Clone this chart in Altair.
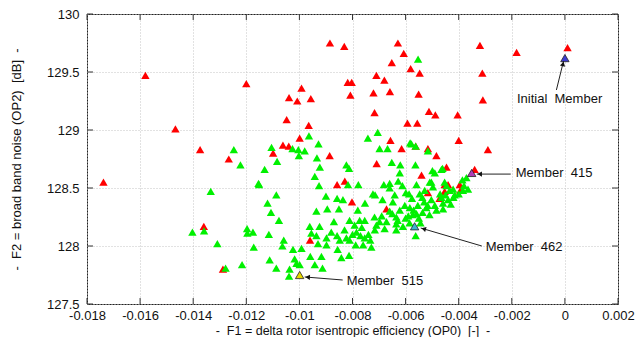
import altair as alt
import pandas as pd

# ---------------- data ----------------
red_x = [-0.0158, -0.0120, -0.01467, -0.01374, -0.01266, -0.00885, -0.00831, -0.00629, -0.00607, -0.00652,
         -0.00581, -0.00547, -0.0071, -0.0068, -0.00818, -0.00803, -0.00992, -0.00721, -0.00659, -0.00551,
         -0.01039, -0.01008, -0.00957, -0.00808, -0.00717, -0.00512, -0.00488, -0.01048, -0.00965, -0.00593,
         -0.00556, -0.00999, -0.00657, -0.01062, -0.0104, -0.01099, -0.00886, -0.00615, -0.00562, -0.00516,
         -0.00484, -0.0032, -0.00182, 0.0001, -0.00311, -0.00309, -0.00404, -0.0040, -0.0029, -0.01738,
         -0.0136, -0.01288, -0.00709, -0.0054, -0.00858, -0.00829, -0.00802, -0.00672, -0.0096, -0.00516,
         -0.00472, -0.00453, -0.00446, -0.0044, -0.00396, -0.00394, -0.00453, -0.0034]
red_y = [129.47, 129.40, 129.01, 128.83, 128.75, 129.75, 129.72, 129.75, 129.66, 129.58,
         129.53, 129.49, 129.47, 129.43, 129.41, 129.41, 129.36, 129.32, 129.33, 129.31,
         129.28, 129.25, 129.27, 129.30, 129.15, 129.16, 129.13, 129.09, 129.04, 129.06,
         129.06, 128.93, 128.91, 128.87, 128.86, 128.80, 128.78, 128.84, 128.86, 128.84,
         128.78, 129.73, 129.67, 129.71, 129.49, 129.26, 129.13, 128.91, 128.83, 128.55,
         128.17, 127.80, 128.71, 128.61, 128.53, 128.56, 128.38, 128.32, 128.05, 128.46,
         128.41, 128.53, 128.68, 128.53, 128.53, 128.48, 128.47, 128.66]

green_x = [-0.01247, -0.01222, -0.01154, -0.01334, -0.01359, -0.01403, -0.01197, -0.01196, -0.01309, -0.01172,
           -0.01216, -0.01278, -0.00964, -0.00742, -0.00705, -0.00928, -0.01105, -0.01026, -0.01004, -0.0098,
           -0.01002, -0.00934, -0.00698, -0.00668, -0.00583, -0.00562, -0.00516, -0.01084, -0.01131, -0.00923,
           -0.00823, -0.00813, -0.00652, -0.0062, -0.00563, -0.00499, -0.00461, -0.00942, -0.01152, -0.00926,
           -0.00778, -0.00682, -0.0066, -0.00612, -0.00559, -0.00509, -0.00497, -0.00446, -0.01087, -0.0112,
           -0.0090, -0.00858, -0.00836, -0.00715, -0.00753, -0.00687, -0.00648, -0.00587, -0.00537, -0.00503,
           -0.00459, -0.01107, -0.00936, -0.00895, -0.00851, -0.0078, -0.00717, -0.0066, -0.00635, -0.0060,
           -0.00559, -0.00522, -0.00484, -0.01077, -0.0087, -0.00811, -0.00773, -0.00754, -0.00672, -0.00635,
           -0.00585, -0.00544, -0.01175, -0.01115, -0.00961, -0.00924, -0.0088, -0.0083, -0.00785, -0.00716,
           -0.00679, -0.00635, -0.00955, -0.00936, -0.00898, -0.00858, -0.00823, -0.00811, -0.00754, -0.00733,
           -0.01059, -0.01064, -0.01024, -0.00992, -0.0093, -0.00898, -0.00856, -0.00788, -0.0076, -0.00729,
           -0.01112, -0.01018, -0.00959, -0.00917, -0.00842, -0.00813, -0.01087, -0.01037, -0.01011, -0.00999,
           -0.00942, -0.00913, -0.01039, -0.00562, -0.00453, -0.00421, -0.00365, -0.00384, -0.00415, -0.00465,
           -0.0044, -0.00459, -0.00578, -0.0049, -0.00465, -0.00503, -0.00547, -0.00622, -0.00628, -0.0066,
           -0.00817, -0.00723, -0.00599, -0.00553, -0.00622, -0.00603, -0.00584, -0.00573, -0.00554, -0.00536,
           -0.00517, -0.00434, -0.00386, -0.00371, -0.00528, -0.00576, -0.00641, -0.00792, -0.00848, -0.00765,
           -0.00698, -0.0080, -0.0077, -0.0074, -0.0071, -0.0069, -0.0065, -0.0063, -0.0061, -0.0059,
           -0.0057, -0.0055, -0.0053, -0.0051, -0.0049, -0.0047, -0.0045, -0.0043, -0.0042, -0.0040,
           -0.0038]
green_y = [128.83, 128.70, 128.54, 128.47, 128.13, 128.12, 128.15, 128.11, 128.02, 127.99,
           127.84, 127.81, 128.95, 128.93, 128.98, 128.88, 128.85, 128.84, 128.83, 128.82,
           128.78, 128.76, 128.84, 128.84, 128.89, 128.86, 128.82, 128.73, 128.66, 128.68,
           128.70, 128.67, 128.72, 128.70, 128.70, 128.65, 128.67, 128.60, 128.53, 128.52,
           128.53, 128.53, 128.54, 128.52, 128.53, 128.55, 128.51, 128.52, 128.44, 128.37,
           128.43, 128.41, 128.40, 128.44, 128.37, 128.40, 128.38, 128.45, 128.42, 128.40,
           128.37, 128.29, 128.30, 128.32, 128.32, 128.31, 128.25, 128.30, 128.25, 128.24,
           128.28, 128.33, 128.31, 128.22, 128.21, 128.22, 128.22, 128.22, 128.21, 128.19,
           128.20, 128.20, 128.12, 128.10, 128.17, 128.17, 128.12, 128.14, 128.12, 128.14,
           128.15, 128.14, 128.11, 128.09, 128.07, 128.09, 128.07, 128.05, 128.07, 128.05,
           128.05, 128.00, 127.97, 127.98, 128.02, 128.01, 127.97, 128.01, 128.01, 127.99,
           127.88, 127.89, 127.91, 127.91, 127.90, 127.92, 127.81, 127.80, 127.85, 127.84,
           127.84, 127.81, 127.74, 128.09, 128.55, 128.49, 128.49, 128.48, 128.44, 128.42,
           128.40, 128.32, 128.88, 128.63, 128.66, 128.55, 128.45, 128.63, 128.56, 128.50,
           128.53, 128.45, 128.46, 129.61, 128.31, 128.35, 128.33, 128.27, 128.35, 128.29,
           128.35, 128.48, 128.57, 128.59, 128.48, 128.41, 128.44, 128.18, 128.05, 128.16,
           128.21, 128.10, 128.09, 128.10, 128.18, 128.26, 128.28, 128.22, 128.17, 128.26,
           128.31, 128.24, 128.38, 128.27, 128.35, 128.45, 128.44, 128.36, 128.42, 128.45,
           128.52]

member_names = ["Initial\u00a0 Member", "Member\u00a0 415", "Member\u00a0 462", "Member\u00a0 515"]
member_x = [0.0, -0.00351, -0.00566, -0.00999]
member_y = [129.62, 128.63, 128.17, 127.75]
member_colors = ["#3c3cd0", "#b03cb8", "#3cb4d0", "#e8d800"]

# label anchor, arrow start, arrow tip, arrowhead centre and direction
label_x = [-0.0002, -0.00185, -0.00298, -0.00822]
label_y = [129.27, 128.63, 127.99, 127.70]
label_align = ["center", "left", "left", "left"]
arrow_x = [-0.00032, -0.00204, -0.00313, -0.00837]
arrow_y = [129.345, 128.62, 128.0, 127.707]
tip_x = [-0.00005, -0.00332, -0.00543, -0.0098]
tip_y = [129.595, 128.62, 128.155, 127.733]
head_x = [-0.00007, -0.00321, -0.00532, -0.00969]
head_y = [129.57, 128.62, 128.148, 127.731]
head_angle = [14, 270, 286, 274]

x_ticks = [-0.018, -0.016, -0.014, -0.012, -0.010, -0.008, -0.006, -0.004, -0.002, 0.0, 0.002]
y_ticks = [127.5, 128.0, 128.5, 129.0, 129.5, 130.0]

x_title = "-\u00a0 F1 = delta rotor isentropic efficiency (OP0)\u00a0 [-]\u00a0 -"
y_title = "-\u00a0 F2 = broad band noise (OP2)\u00a0 [dB]\u00a0 -"

# ---------------- chart ----------------
W, H = 531, 290
FONT = "Liberation Sans"

xs = alt.Scale(domain=[-0.018, 0.002], nice=False, zero=False)
ys = alt.Scale(domain=[127.5, 130.0], nice=False, zero=False)
xaxis = alt.Axis(values=x_ticks, title=x_title, grid=True, ticks=False, domain=False,
                 labelExpr="datum.value < 0 ? '-' + format(-datum.value, '~g') : format(datum.value, '~g')",
                 labelPadding=5, titlePadding=2, titleFontSize=12.5, labelFlush=False)
yaxis = alt.Axis(values=y_ticks, title=y_title, grid=True, ticks=False, domain=False,
                 labelExpr="format(datum.value, '~g')", labelPadding=8, titlePadding=23)

X = alt.X("x:Q", scale=xs, axis=xaxis)
Y = alt.Y("y:Q", scale=ys, axis=yaxis)

red_df = pd.DataFrame({"x": red_x, "y": red_y})
green_df = pd.DataFrame({"x": green_x, "y": green_y})
mem_df = pd.DataFrame({"x": member_x, "y": member_y, "c": member_colors})
ann_df = pd.DataFrame({"x": arrow_x, "y": arrow_y, "x2": tip_x, "y2": tip_y})
head_df = pd.DataFrame({"x": head_x, "y": head_y, "a": head_angle})
lab_df = pd.DataFrame({"x": label_x, "y": label_y, "t": member_names, "al": label_align})

tri = dict(shape="triangle-up", filled=True, opacity=1)

red = alt.Chart(red_df).mark_point(size=70, color="#ff0000", **tri).encode(x=X, y=Y)
green = alt.Chart(green_df).mark_point(size=70, color="#00f000", **tri).encode(x=X, y=Y)
members = alt.Chart(mem_df).mark_point(size=70, stroke="#222222", strokeWidth=0.8, **tri).encode(
    x=X, y=Y, fill=alt.Fill("c:N", scale=None))
arrows = alt.Chart(ann_df).mark_rule(color="#222222", strokeWidth=1).encode(
    x=X, y=Y, x2="x2:Q", y2="y2:Q")
heads = alt.Chart(head_df).mark_point(size=28, color="#111111", **tri).encode(
    x=X, y=Y, angle=alt.Angle("a:Q", scale=None))
lab_c = alt.Chart(lab_df[lab_df.al == "center"]).mark_text(
    align="center", baseline="middle", font=FONT, fontSize=13, color="#111111").encode(x=X, y=Y, text="t:N")
lab_l = alt.Chart(lab_df[lab_df.al == "left"]).mark_text(
    align="left", baseline="middle", font=FONT, fontSize=13, color="#111111").encode(x=X, y=Y, text="t:N")

xt_df = pd.DataFrame({"x": x_ticks})
yt_df = pd.DataFrame({"y": y_ticks})
tick_style = dict(color="#333333", strokeWidth=1)
xt_bot = alt.Chart(xt_df).mark_rule(**tick_style).encode(x=X, y=alt.value(H), y2=alt.value(H - 6))
xt_top = alt.Chart(xt_df).mark_rule(**tick_style).encode(x=X, y=alt.value(0), y2=alt.value(6))
yt_l = alt.Chart(yt_df).mark_rule(**tick_style).encode(y=Y, x=alt.value(0), x2=alt.value(6))
yt_r = alt.Chart(yt_df).mark_rule(**tick_style).encode(y=Y, x=alt.value(W), x2=alt.value(W - 6))

chart = alt.layer(red, green, members, arrows, heads, lab_c, lab_l, xt_bot, xt_top, yt_l, yt_r).properties(
    width=W, height=H,
    autosize=alt.AutoSizeParams(type="none"),
    padding={"left": 79, "top": 6, "right": 17, "bottom": 33},
    background="white",
).configure_view(stroke="#222222", strokeWidth=1).configure_axis(
    labelFont=FONT, labelFontSize=13, labelColor="#111111",
    titleFont=FONT, titleFontSize=13, titleFontWeight="normal", titleColor="#111111",
    gridColor="#c4c4c4", gridDash=[1, 2], gridWidth=1,
)

chart.save("out.html", embed_options={"renderer": "svg", "actions": False})
